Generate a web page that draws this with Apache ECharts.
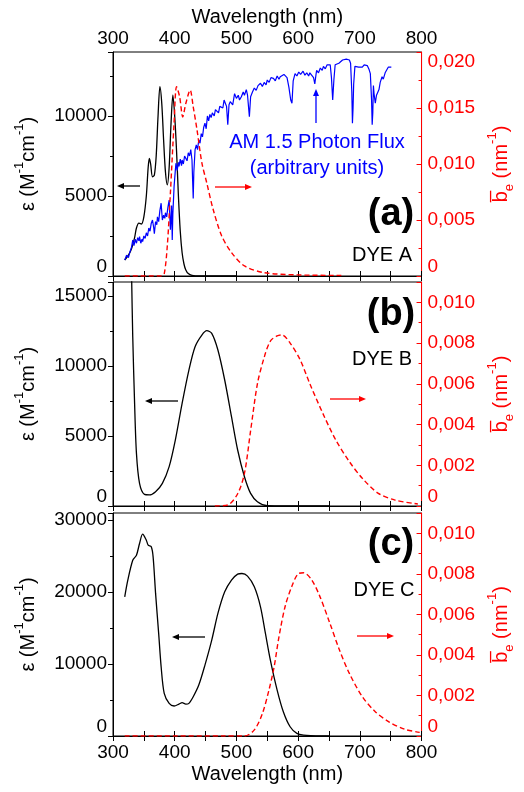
<!DOCTYPE html>
<html>
<head>
<meta charset="utf-8">
<script src="https://cdn.jsdelivr.net/npm/echarts@6.0.0/dist/echarts.min.js"></script>
<style>html,body{margin:0;padding:0;background:#fff}#main{width:524px;height:792px}</style>
</head>
<body>
<div id="main"></div>
<script>
var FONT = '"Liberation Sans", Arial, sans-serif';

// wavelength ticks (nm)
var xTicks = [300, 400, 500, 600, 700, 800];

// Dye A : absorption (M-1 cm-1)
var dyeA_absWl = [319,325,330,335,338,342,346,350,354,357,359,361,364,367,370,373,376,379,382,385,388,391,394,397,400,403,406,409,412,415,418,422,428,440,500];
var dyeA_abs   = [1000,1300,1700,2400,3000,3300,3250,3700,5000,6800,7350,7000,6200,6300,7500,10000,11830,10800,8500,6500,5700,6800,9500,11300,10000,7800,5000,2800,1450,750,380,150,40,0,0];
// Dye A : emission b_e (nm-1)
var dyeA_emWl = [319,340,360,378,383,388,393,399,403,408,413,418,425,430,436,444,452,462,476,492,513,545,598,670];
var dyeA_em   = [0,0,0,0,0.0002,0.0027,0.0074,0.0137,0.0169,0.0160,0.0142,0.0154,0.0166,0.0151,0.0131,0.0101,0.0083,0.0060,0.0036,0.0021,0.0009,0.0003,0.0001,0.00005];

// AM 1.5 photon flux (arbitrary units, drawn on left scale of panel a)
var fluxWl = [319,322,325,327,330,332,334,336,338,340,342,343,345,347,348,350,352,354,356,358,360,362,364,366,367,369,371,372,374,376,378,379,380,382,384,385,387,389,391,392,393,394,395,396,397,399,401,402,404,406,407,409,411,412,414,416,418,420,422,424,426,428,429,430,431,433,435,437,439,441,443,445,447,449,451,453,455,457,459,461,464,466,468,471,473,476,478,480,482,484,486,488,490,492,494,497,500,503,505,508,511,513,516,518,520,521,523,526,529,532,535,539,542,545,548,550,553,556,560,563,566,569,571,574,577,580,582,585,588,590,592,595,598,601,604,608,611,614,617,619,622,625,627,629,630,633,636,639,641,644,647,650,652,654,656,658,660,663,666,669,672,675,678,681,683,685,687,688,689,690,692,695,698,701,704,707,710,712,715,717,719,720,721,722,723,725,727,729,731,733,736,738,741,743,746,748,751];
var fluxVal = [1000,1300,1150,1450,1800,2250,1900,2300,2050,2400,2200,2460,2050,2300,2150,2500,2350,2700,2500,3000,2800,3300,3500,3000,2650,3400,3200,3700,3400,4100,4550,4000,3500,3800,3600,3950,3700,4300,4750,3800,2900,3600,4400,2250,3900,5600,6600,7050,6600,7100,6850,7300,6900,7250,7000,7500,7450,7200,7700,7500,7900,7250,6000,4850,6500,7900,8200,7900,8500,8300,8900,8700,9300,9550,9200,10000,9700,10100,9900,10200,10000,10400,10350,10200,10600,10700,10500,11000,10800,10600,9450,10700,10900,11000,10700,11400,11100,11300,11000,11200,11500,11300,11650,11300,10400,9950,11200,11500,11750,11600,11900,12050,11850,12100,11950,12250,12100,12400,12350,12200,12500,12300,12450,12350,12600,12700,12400,11800,11000,10800,12200,12650,12500,12750,12600,12800,12550,12700,12500,12700,12600,12400,12000,12600,12850,12700,13000,12850,13100,12950,13200,13100,13200,12400,11000,12300,13200,13100,13300,13400,13500,13450,13550,13450,13500,13300,11500,9550,10500,12000,13100,13200,13050,13150,13050,13200,13100,13150,12900,12650,11000,9450,10200,11900,11400,10800,11300,11200,11650,12100,12450,12300,12700,12600,13050,13100,13050];

// Dye B
var dyeB_absWl = [330,332,335,338,343,351,359,369,380,391,401,412,423,433,444,452,460,470,481,492,502,513,523,534,550,580,650];
var dyeB_abs   = [16800,12090,7330,3760,1620,830,790,1020,1620,2810,4710,7330,9710,11380,12210,12520,12330,11140,9000,6380,4000,2090,900,310,20,0,0];
var dyeB_emWl = [465,486,502,513,523,534,545,555,566,574,587,603,619,640,661,683,704,730,757,794];
var dyeB_em   = [0,0.00005,0.0006,0.0016,0.0037,0.0060,0.0073,0.0081,0.00835,0.0084,0.0080,0.0072,0.0060,0.00455,0.00324,0.00218,0.00136,0.00062,0.00029,0.0001];

// Dye C
var dyeC_absWl = [319,324,332,338,343,348,354,357,362,365,369,374,378,383,391,399,407,412,418,423,430,439,449,460,470,481,492,502,509,518,529,539,547,555,566,576,587,598,614,650];
var dyeC_abs   = [19350,21670,24440,25140,26760,28060,27220,26530,26300,24900,19820,14260,9630,5930,4540,4170,4440,4630,4440,4540,5460,7080,9860,13330,17040,20040,21670,22500,22590,22220,20740,17960,14260,10560,6390,3380,1290,370,80,0];
var dyeC_emWl = [319,400,480,513,529,542,553,561,569,579,590,600,609,622,635,651,667,683,704,725,747,773,797];
var dyeC_em   = [0,0,0,0,0.0003,0.0011,0.0023,0.0034,0.0049,0.0064,0.0074,0.0080,0.00805,0.0077,0.0069,0.0056,0.00424,0.00309,0.00194,0.0012,0.0007,0.00033,0.00018];

function pairs(xs, ys) {
  return xs.map(function (x, i) { return [x, ys[i]]; });
}

var grids = [
  {left: 113, top: 52, width: 314, height: 224},
  {left: 113, top: 282, width: 314, height: 224},
  {left: 113, top: 513, width: 314, height: 223}
];
grids.forEach(function (g) { g.show = true; g.borderColor = '#000'; g.borderWidth = 1; });

function xAx(gi, pos, showLabel, name) {
  return {
    type: 'value', gridIndex: gi, position: pos, min: 300, max: 800, interval: 50,
    axisLine: {show: true, lineStyle: {color: '#000', width: 1}},
    axisTick: {inside: true, length: 5, lineStyle: {color: '#000'}},
    axisLabel: {
      show: showLabel, color: '#000', fontSize: 19, fontFamily: FONT,
      margin: pos === 'top' ? 4 : 7,
      formatter: function (v) { return xTicks.indexOf(v) >= 0 ? String(v) : ''; }
    },
    splitLine: {show: false},
    name: name || '', nameLocation: 'middle', nameGap: pos === 'top' ? 25 : 28,
    nameTextStyle: {color: '#000', fontSize: 20, fontFamily: FONT}
  };
}

var epsName = 'ε (M{s|-1}cm{s|-1})';
var beName = 'b\u0305{e|e} (nm{s|-1})';

function yLeft(gi, max, interval) {
  return {
    type: 'value', gridIndex: gi, position: 'left', min: 0, max: max, interval: interval,
    axisLine: {show: true, lineStyle: {color: '#000'}},
    axisTick: {show: true, inside: false, length: 5, lineStyle: {color: '#000'}},
    minorTick: {show: true, splitNumber: 2, length: 3, lineStyle: {color: '#000'}},
    axisLabel: {color: '#000', fontSize: 19, fontFamily: FONT, margin: 6, showMaxLabel: false,
      verticalAlignMinLabel: 'bottom',
      formatter: function (v) { return String(v); }},
    splitLine: {show: false},
    name: epsName, nameLocation: 'middle', nameRotate: 90, nameGap: 62,
    nameTextStyle: {color: '#000', fontSize: 20, fontFamily: FONT, lineHeight: 30,
      rich: {s: {fontSize: 13, lineHeight: 13, verticalAlign: 'top', color: '#000', fontFamily: FONT}}}
  };
}

function yRight(gi, max, interval, showMax) {
  return {
    type: 'value', gridIndex: gi, position: 'right', min: 0, max: max, interval: interval,
    axisLine: {show: true, lineStyle: {color: '#f00'}},
    axisTick: {show: true, inside: true, length: 5, lineStyle: {color: '#f00'}},
    minorTick: {show: true, splitNumber: 2, length: 3, lineStyle: {color: '#f00'}},
    axisLabel: {color: '#f00', fontSize: 19, fontFamily: FONT, margin: 6,
      showMaxLabel: showMax, verticalAlignMinLabel: 'bottom', verticalAlignMaxLabel: 'top',
      formatter: function (v) { return v === 0 ? '0' : v.toFixed(3).replace('.', ','); }},
    splitLine: {show: false},
    name: beName, nameLocation: 'middle', nameRotate: 90, nameGap: 54,
    nameTextStyle: {color: '#f00', fontSize: 20, fontFamily: FONT, lineHeight: 30,
      rich: {s: {fontSize: 13, lineHeight: 13, verticalAlign: 'top', color: '#f00', fontFamily: FONT},
             e: {fontSize: 13, lineHeight: 13, verticalAlign: 'bottom', color: '#f00', fontFamily: FONT}}}
  };
}

function absLine(xi, yi, data) {
  return {type: 'line', xAxisIndex: xi, yAxisIndex: yi, data: data, showSymbol: false, symbol: 'none',
    smooth: 0.3, lineStyle: {color: '#000', width: 1.3}, z: 3};
}
function emLine(xi, yi, data) {
  return {type: 'line', xAxisIndex: xi, yAxisIndex: yi, data: data, showSymbol: false, symbol: 'none',
    smooth: 0.3, lineStyle: {color: '#f00', width: 1.4, type: [5, 3]}, z: 4};
}

function arrow(x1, y1, x2, y2, color) {
  var dx = x2 - x1, dy = y2 - y1, len = Math.sqrt(dx * dx + dy * dy);
  var ux = dx / len, uy = dy / len, hl = 7, hw = 3;
  var bx = x2 - ux * hl, by = y2 - uy * hl;
  return [
    {type: 'line', shape: {x1: x1, y1: y1, x2: bx, y2: by}, style: {stroke: color, lineWidth: 1.3}, z: 10},
    {type: 'polygon', shape: {points: [[x2, y2], [bx - uy * hw, by + ux * hw], [bx + uy * hw, by - ux * hw]]},
      style: {fill: color}, z: 10}
  ];
}

function label(x, y, text, size, color, bold) {
  return {type: 'text', x: x, y: y, z: 10,
    style: {text: text, fill: color, fontSize: size, fontFamily: FONT, fontWeight: bold ? 'bold' : 'normal',
      align: 'center', verticalAlign: 'middle'}};
}

var graphics = [
  label(391, 215, '(a)', 38, '#000', true),
  label(382, 255, 'DYE A', 20, '#000'),
  label(317, 142, 'AM 1.5 Photon Flux', 20, '#00f'),
  label(317, 168, '(arbitrary units)', 20, '#00f'),
  label(391, 315, '(b)', 38, '#000', true),
  label(382, 359, 'DYE B', 20, '#000'),
  label(391, 545, '(c)', 38, '#000', true),
  label(384, 590, 'DYE C', 20, '#000')
].concat(
  arrow(140, 186, 117, 186, '#000'),
  arrow(215, 187, 252, 187, '#f00'),
  arrow(316, 123, 316, 89, '#00f'),
  arrow(178, 401, 145, 401, '#000'),
  arrow(330, 399, 366, 399, '#f00'),
  arrow(205, 637, 172, 637, '#000'),
  arrow(357, 636, 394, 636, '#f00')
);

var chart = echarts.init(document.getElementById('main'), null, {renderer: 'canvas'});
chart.setOption({
  animation: false,
  backgroundColor: '#fff',
  grid: grids,
  xAxis: [
    xAx(0, 'bottom', false), xAx(0, 'top', true, 'Wavelength (nm)'),
    xAx(1, 'bottom', false), xAx(1, 'top', false),
    xAx(2, 'bottom', true, 'Wavelength (nm)'), xAx(2, 'top', false)
  ],
  yAxis: [
    yLeft(0, 14000, 5000), yRight(0, 0.02, 0.005, true),
    yLeft(1, 16000, 5000), yRight(1, 0.011, 0.002, false),
    yLeft(2, 31000, 10000), yRight(2, 0.011, 0.002, false)
  ],
  series: [
    absLine(0, 0, pairs(dyeA_absWl, dyeA_abs)),
    {type: 'line', xAxisIndex: 0, yAxisIndex: 0, data: pairs(fluxWl, fluxVal), showSymbol: false, symbol: 'none',
      lineStyle: {color: '#00f', width: 1.2}, z: 3},
    emLine(0, 1, pairs(dyeA_emWl, dyeA_em)),
    absLine(2, 2, pairs(dyeB_absWl, dyeB_abs)),
    emLine(2, 3, pairs(dyeB_emWl, dyeB_em)),
    absLine(4, 4, pairs(dyeC_absWl, dyeC_abs)),
    emLine(4, 5, pairs(dyeC_emWl, dyeC_em))
  ],
  graphic: graphics
});
</script>
</body>
</html>
